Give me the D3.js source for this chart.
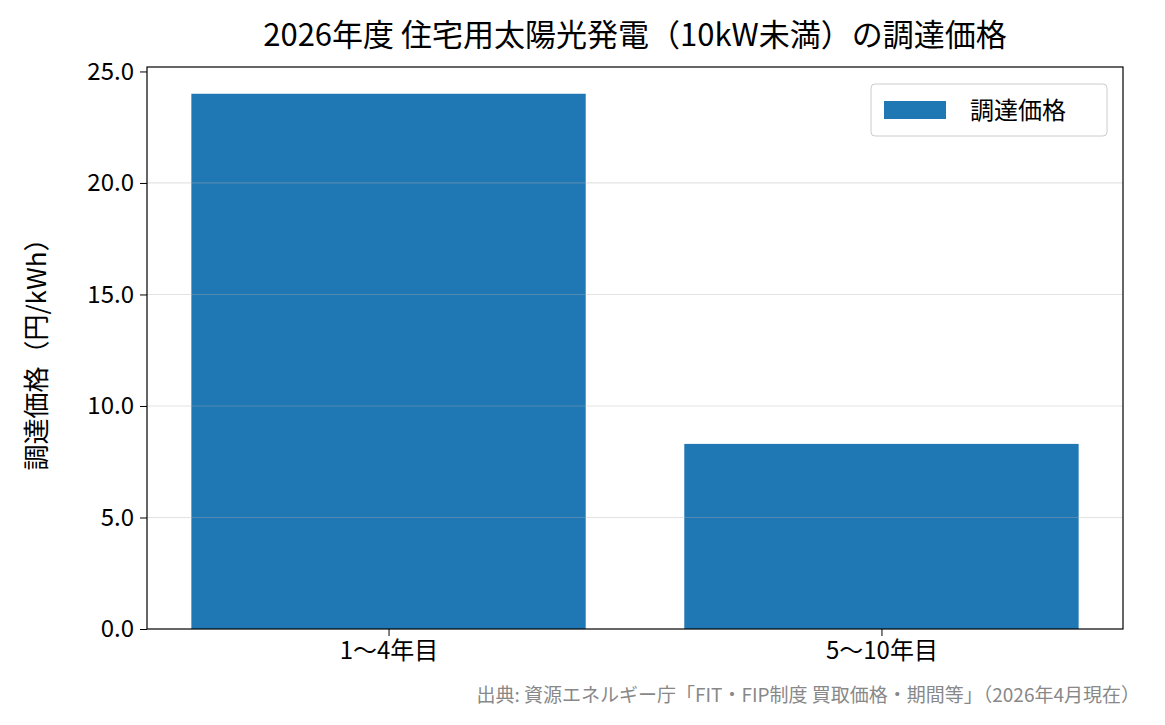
<!DOCTYPE html>
<html><head><meta charset="utf-8">
<script src="https://cdn.jsdelivr.net/npm/d3@7"></script>
<style>body{margin:0;background:#fff}text{font-family:"Noto Sans CJK JP","Noto Sans",sans-serif}</style>
</head><body>
<svg id="chart" width="1165" height="725"></svg>
<script>
var categories = ["1〜4年目", "5〜10年目"];
var prices = [24.0, 8.3];
var yTicks = [0, 5, 10, 15, 20, 25];

var svg = d3.select("#chart");
var m = {left: 147, right: 1123, top: 67, bottom: 629};

var x = d3.scaleLinear().domain([-0.49, 1.49]).range([m.left, m.right]);
var y = d3.scaleLinear().domain([0, 25.2]).range([m.bottom, m.top]);

// bars
svg.selectAll("rect.bar").data(prices).enter().append("rect")
  .attr("class", "bar")
  .attr("x", function(d, i) { return x(i - 0.4); })
  .attr("width", x(0.4) - x(-0.4))
  .attr("y", function(d) { return y(d); })
  .attr("height", function(d) { return y(0) - y(d); })
  .attr("fill", "#1f77b4");

// grid over bars, faint
svg.selectAll("line.grid").data(yTicks.slice(1, 5)).enter().append("line")
  .attr("x1", m.left).attr("x2", m.right)
  .attr("y1", function(d) { return y(d); }).attr("y2", function(d) { return y(d); })
  .attr("stroke", "#b0b0b0").attr("stroke-opacity", 0.35).attr("stroke-width", 1.2);

// frame
svg.append("rect").attr("x", m.left).attr("y", m.top)
  .attr("width", m.right - m.left).attr("height", m.bottom - m.top)
  .attr("fill", "none").attr("stroke", "#000").attr("stroke-width", 1.2);

var yAxis = svg.append("g").attr("transform", "translate(" + m.left + ",0)")
  .call(d3.axisLeft(y).tickValues(yTicks).tickFormat(d3.format(".1f")).tickSize(7).tickPadding(6));
yAxis.select(".domain").remove();
yAxis.selectAll("text").attr("font-size", 24).attr("fill", "#000");

var xAxis = svg.append("g").attr("transform", "translate(0," + m.bottom + ")")
  .call(d3.axisBottom(x).tickValues([0, 1]).tickFormat(function(d) { return categories[d]; }).tickSize(7).tickPadding(6));
xAxis.select(".domain").remove();
xAxis.selectAll("text").attr("font-size", 24).attr("fill", "#000");

svg.append("text").attr("x", 635).attr("y", 46).attr("text-anchor", "middle")
  .attr("font-size", 31).text("2026年度 住宅用太陽光発電（10kW未満）の調達価格");

svg.append("text").attr("transform", "translate(46," + ((m.top + m.bottom) / 2) + ") rotate(-90)")
  .attr("text-anchor", "middle").attr("font-size", 26).text("調達価格（円/kWh）");

// legend
var lg = svg.append("g");
lg.append("rect").attr("x", 871).attr("y", 84).attr("width", 236).attr("height", 52).attr("rx", 4)
  .attr("fill", "#fff").attr("fill-opacity", 0.8).attr("stroke", "#ccc");
lg.append("rect").attr("x", 884).attr("y", 101).attr("width", 62).attr("height", 18).attr("fill", "#1f77b4");
lg.append("text").attr("x", 970).attr("y", 119).attr("font-size", 24).text("調達価格");

svg.append("text").attr("x", 1140).attr("y", 702).attr("text-anchor", "end")
  .attr("font-size", 19).attr("fill", "#888")
  .text("出典: 資源エネルギー庁「FIT・FIP制度 買取価格・期間等」（2026年4月現在）");
</script>
</body></html>
